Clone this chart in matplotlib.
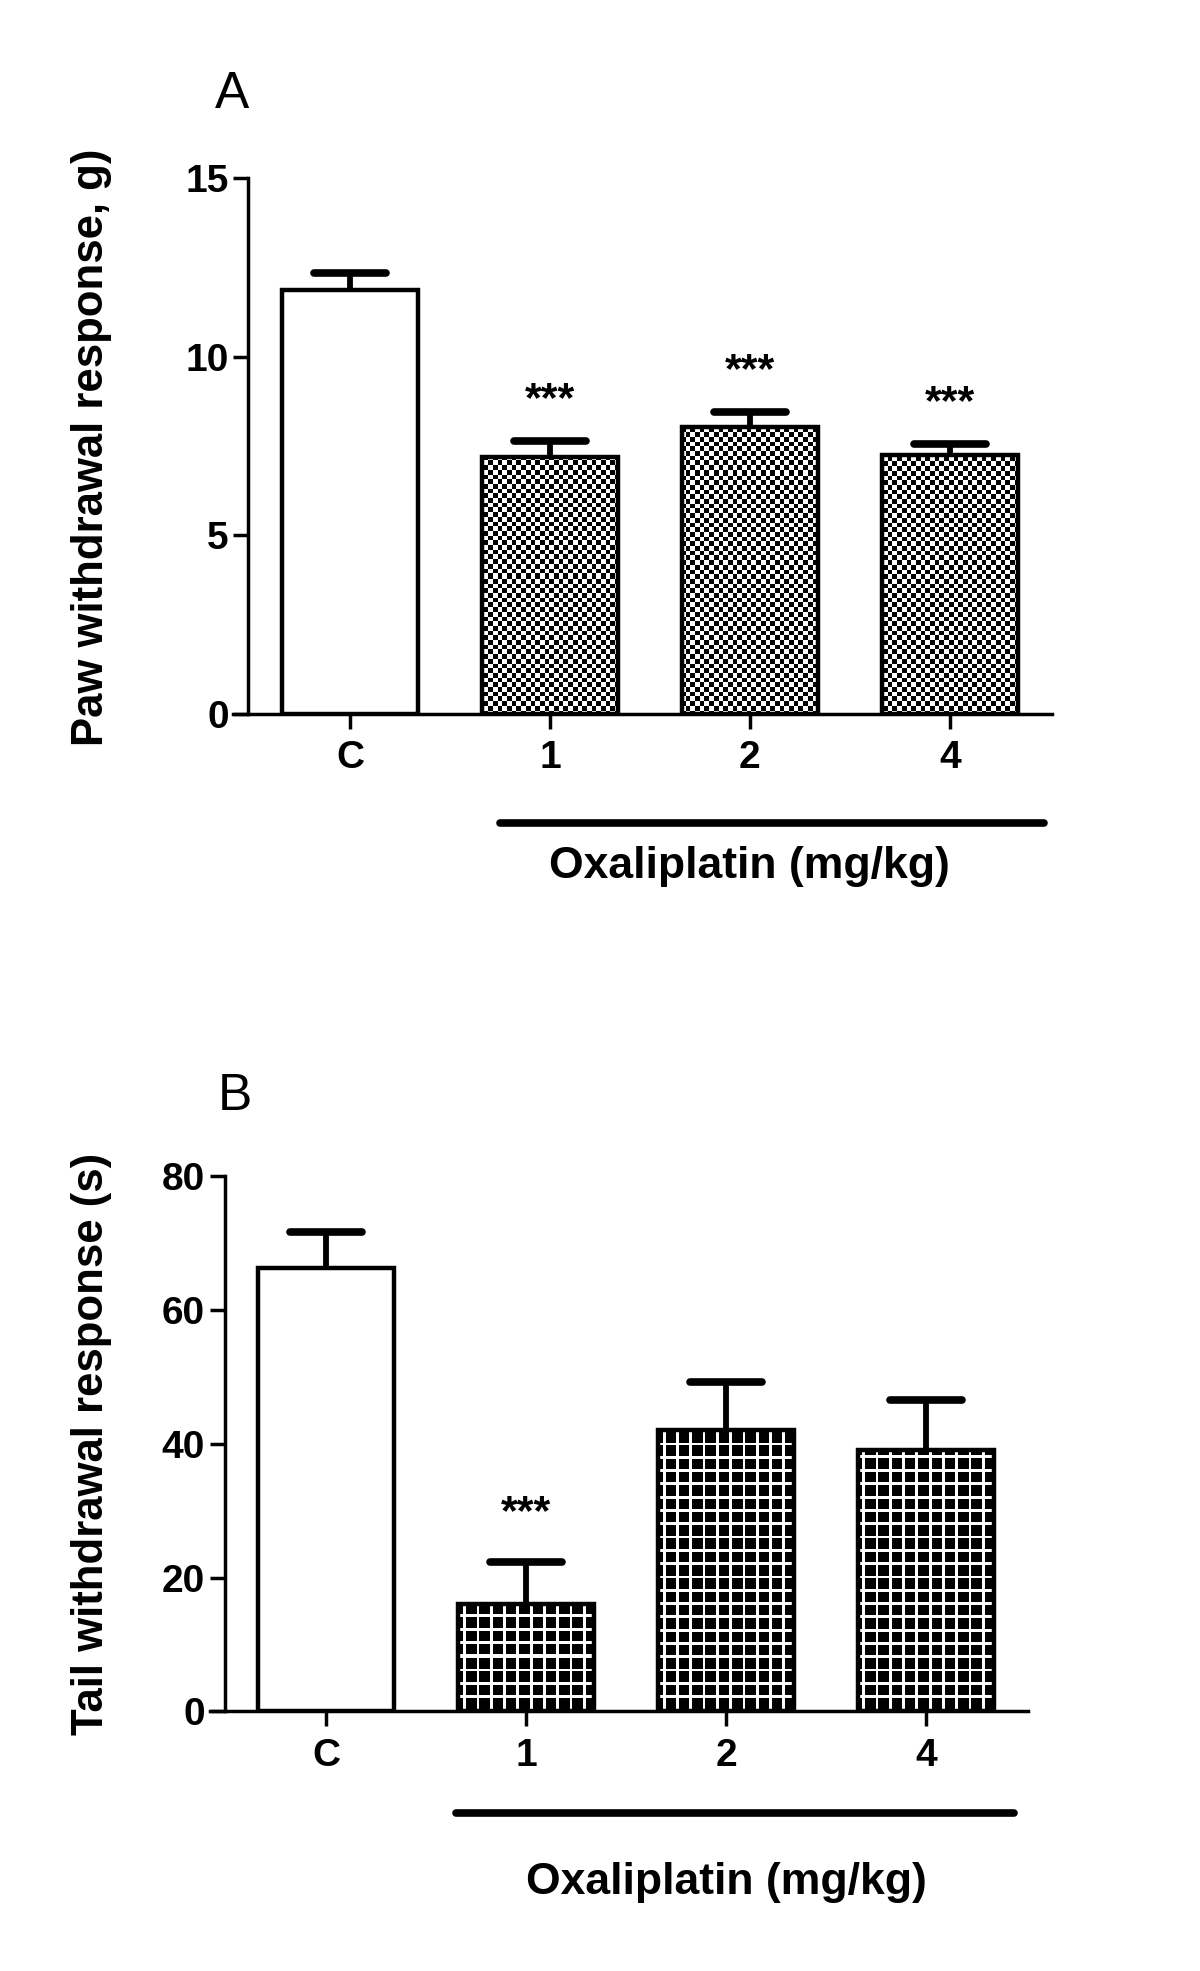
import numpy as np
import matplotlib
matplotlib.use("Agg")
import matplotlib.pyplot as plt
import matplotlib.transforms as mtransforms

plt.rcParams['font.family'] = ['Liberation Sans', 'DejaVu Sans']

# data
groups = ["C", "1", "2", "4"]
paw_mean = [11.87, 7.18, 8.03, 7.25]
paw_sem = [0.49, 0.46, 0.42, 0.32]
paw_sig = ["", "***", "***", "***"]

tail_mean = [66.3, 16.0, 42.1, 39.1]
tail_sem = [5.4, 6.3, 7.1, 7.5]
tail_sig = ["", "***", "", ""]

W, H = 12, 19.71
DPI = 100


def pattern_image(ax, kind):
    # build a pixel pattern the size of the axes so it maps ~1:1 on screen
    bb = ax.get_position()
    npx = int(round(bb.width * W * DPI))
    npy = int(round(bb.height * H * DPI))
    j, i = np.meshgrid(np.arange(npx), np.arange(npy))
    if kind == "checker":
        c = 4.7
        img = ((np.floor(i / c) + np.floor(j / c)) % 2)
    else:
        c = 13.3
        img = ((i % c) < 2.8) | ((j % c) < 2.8)
        img = img.astype(float)
    return img


def panel(ax, means, sems, sig, ymax, yticks, kind, star_off, line_x, line_y, lab_y):
    x = np.arange(len(groups))
    ax.set_xlim(-0.583, 3.509)
    ax.set_ylim(0, ymax)
    bars = ax.bar(x, means, width=0.68, color="white", edgecolor="none", zorder=1)
    x0, x1 = ax.get_xlim()
    img = pattern_image(ax, kind)
    for k, b in enumerate(bars):
        if k == 0:
            continue
        im = ax.imshow(img, cmap="gray", vmin=0, vmax=1, extent=(x0, x1, 0, ymax),
                       interpolation="nearest", aspect="auto", zorder=2)
        im.set_clip_path(b)
    ax.set_xlim(x0, x1)
    ax.set_ylim(0, ymax)
    ax.bar(x, means, width=0.68, facecolor="none", edgecolor="black", linewidth=3.2, zorder=3)

    tops = np.array(means) + np.array(sems)
    ax.vlines(x, means, tops, color="black", linewidth=4.2, zorder=4)
    ax.hlines(tops, x - 0.18, x + 0.18, color="black", linewidth=5.5, zorder=4,
              capstyle="round")
    for xi, t, s in zip(x, tops, sig):
        if s:
            ax.annotate(s, (xi, t), xytext=(0, star_off), textcoords="offset points",
                        ha="center", va="baseline", fontsize=31, fontweight="bold")

    for side in ["top", "right"]:
        ax.spines[side].set_visible(False)
    ax.spines["left"].set_position(("data", -0.508))
    ax.spines["left"].set_linewidth(2.5)
    ax.spines["bottom"].set_linewidth(2.5)
    ax.set_yticks(yticks)
    ax.set_xticks(x)
    ax.set_xticklabels(groups)
    ax.tick_params(axis="both", length=11, width=2.5, labelsize=28)
    ax.tick_params(axis="y", pad=3)
    ax.tick_params(axis="x", pad=8)
    for lab in ax.get_xticklabels() + ax.get_yticklabels():
        lab.set_fontweight("bold")

    trans = mtransforms.blended_transform_factory(ax.transData, ax.transAxes)
    ax.plot(line_x, [line_y, line_y], color="black", linewidth=5.5, solid_capstyle="round",
            transform=trans, clip_on=False)
    ax.text(2.0, lab_y, "Oxaliplatin (mg/kg)", transform=trans, ha="center", va="center",
            fontsize=32, fontweight="bold")


fig = plt.figure(figsize=(W, H), dpi=DPI)

axA = fig.add_axes([233.3 / 1200, 1 - 713.7 / 1971, 818.4 / 1200, 535.4 / 1971])
panel(axA, paw_mean, paw_sem, paw_sig, 15, [0, 5, 10, 15], "checker", 21.5,
      [0.75, 3.47], -0.204, -0.286)
fig.text(92 / 1200, 1 - 447 / 1971, "Paw withdrawal response, g)", rotation=90,
         ha="center", va="center", fontsize=31.5, fontweight="bold")
fig.text(232 / 1200, 1 - 94 / 1971, "A", ha="center", va="center", fontsize=37)

axB = fig.add_axes([209.5 / 1200, 1 - 1711.4 / 1971, 818.4 / 1200, 535.4 / 1971])
panel(axB, tail_mean, tail_sem, tail_sig, 80, [0, 20, 40, 60, 80], "grid", 27.5,
      [0.65, 3.44], -0.190, -0.319)
fig.text(92 / 1200, 1 - 1444 / 1971, "Tail withdrawal response (s)", rotation=90,
         ha="center", va="center", fontsize=31.5, fontweight="bold")
fig.text(235 / 1200, 1 - 1097 / 1971, "B", ha="center", va="center", fontsize=37)

fig.savefig("out.png", dpi=DPI)
